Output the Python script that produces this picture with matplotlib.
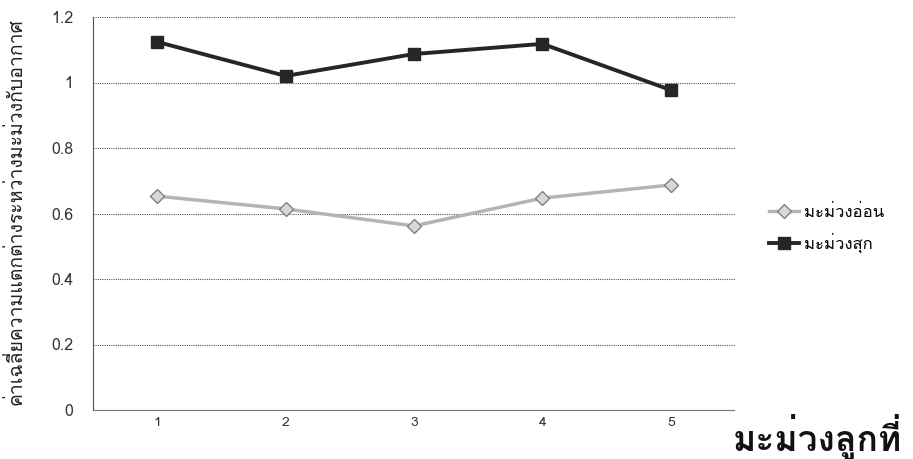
import matplotlib
matplotlib.use("Agg")
import matplotlib.pyplot as plt
from matplotlib import font_manager

# fonts: look for something that carries Thai glyphs
thai_fonts = [f.name for f in font_manager.fontManager.ttflist if "Thai" in f.name or "Loma" in f.name or "Garuda" in f.name]
plt.rcParams['font.family'] = list(dict.fromkeys(thai_fonts + ['DejaVu Sans']))

fruit_no = ["1", "2", "3", "4", "5"]
young_mango = [0.653, 0.614, 0.562, 0.647, 0.687]
ripe_mango = [1.124, 1.020, 1.087, 1.118, 0.977]

fig = plt.figure(figsize=(9.13, 4.59), dpi=100)
ax = fig.add_axes([93/913, 49/459, 642/913, 393/459])

x = range(len(fruit_no))
ax.plot(x, young_mango, color='#b4b4b4', lw=2.5, marker='D', ms=7,
        mfc='#d8d8d8', mec='#808080', label='มะม่วงอ่อน')
ax.plot(x, ripe_mango, color='#262626', lw=2.8, marker='s', ms=8,
        mfc='#262626', mec='#262626', label='มะม่วงสุก')

ax.set_xlim(-0.5, 4.5)
ax.set_ylim(0, 1.2)
ax.set_yticks([0, 0.2, 0.4, 0.6, 0.8, 1.0, 1.2])
ax.set_yticklabels(['0', '0.2', '0.4', '0.6', '0.8', '1', '1.2'])
ax.set_xticks(list(x))
ax.set_xticklabels(fruit_no)
ax.tick_params(length=0, labelsize=11.5, colors='#333333')
ax.tick_params(axis='y', pad=14)
ax.tick_params(axis='x', pad=5, labelsize=10)
ax.grid(axis='y', color='#555555', ls=(0, (1, 1)), lw=0.8)
for s in ['top', 'right']:
    ax.spines[s].set_visible(False)
ax.spines['left'].set_color('#555555')
ax.spines['bottom'].set_color('#777777')
ax.spines['bottom'].set_linestyle((0, (1, 1)))

ax.set_ylabel('ค่าเฉลี่ยความแตกต่างระหว่างมะม่วงกับอากาศ', fontsize=14, color='#222222')
ax.yaxis.set_label_coords(-77/642, 0.506)
ax.yaxis.label.set_va('center')

ax.legend(loc='center left', bbox_to_anchor=(1.03, 0.462), frameon=False,
          fontsize=12, handlelength=1.8, handletextpad=0.3, labelspacing=0.7)

fig.text(733/913, 1 - 437/459, 'มะม่วงลูกที่', fontsize=25.5, fontweight='bold',
         color='#111111', va='center', ha='left')

fig.savefig('out.png', dpi=100)
